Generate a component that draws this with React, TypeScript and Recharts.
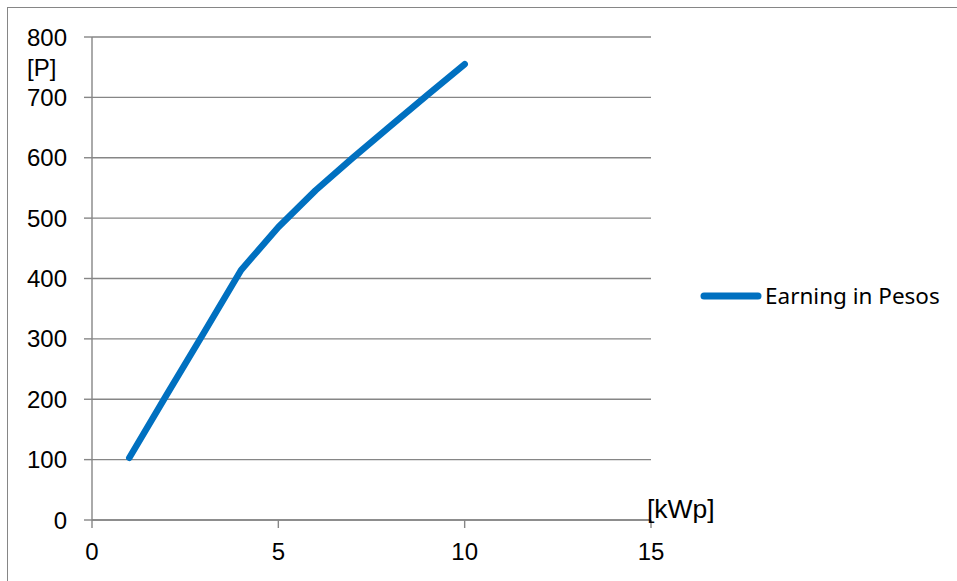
import { LineChart, Line, XAxis, YAxis, CartesianGrid, Legend } from "recharts";

// installed capacity [kWp] and yearly earning [P]
const capacity = [1, 2, 3, 4, 5, 6, 7, 8, 9, 10];
const earning = [103, 207, 310, 414, 485, 546, 600, 652, 704, 755];

const xTicks = [0, 5, 10, 15];
const yTicks = [0, 100, 200, 300, 400, 500, 600, 700, 800];

const seriesName = "Earning in Pesos";

const GRID = "#868686";
const BLUE = "#0070C0";

const chartData = capacity.map((kwp, i) => ({ kwp, pesos: earning[i] }));

function LegendBox() {
  return (
    <div style={{ display: "flex", alignItems: "center", fontFamily: "'Noto Sans', sans-serif", fontSize: 22.5, lineHeight: "26px", color: "#000" }}>
      <svg width={62} height={10}>
        <line x1={4} y1={5} x2={58} y2={5} stroke={BLUE} strokeWidth={7} strokeLinecap="round" />
      </svg>
      <span style={{ marginLeft: 3 }}>{seriesName}</span>
    </div>
  );
}

export default function App() {
  const tickStyle = { fontFamily: "'Liberation Sans', Arial, sans-serif", fontSize: 24, fill: "#000" };

  return (
    <div style={{ position: "absolute", left: 0, top: 0, width: 957, height: 581, background: "#fff", overflow: "hidden" }}>
      <div style={{ position: "absolute", left: 7, top: 7, right: -2, bottom: -2, borderLeft: `1.5px solid ${GRID}`, borderTop: `1.5px solid ${GRID}` }} />
      <LineChart width={957} height={581} data={chartData} margin={{ top: 37, right: 56, left: 0, bottom: 31 }}>
        <CartesianGrid vertical={false} stroke={GRID} strokeWidth={1.4} />
        <XAxis
          type="number"
          dataKey="kwp"
          domain={[0, 15]}
          ticks={xTicks}
          height={30}
          tick={tickStyle}
          tickSize={8}
          tickMargin={15}
          axisLine={{ stroke: GRID, strokeWidth: 1.4 }}
          tickLine={{ stroke: GRID, strokeWidth: 1.4 }}
          label={{
            content: ({ viewBox }: any) => (
              <text x={viewBox.x + viewBox.width - 4} y={viewBox.y - 2} style={{ ...tickStyle, fontSize: 26.5 }} fill="#000">
                [kWp]
              </text>
            ),
          }}
        />
        <YAxis
          type="number"
          domain={[0, 800]}
          ticks={yTicks}
          width={92}
          tick={tickStyle}
          tickSize={8}
          tickMargin={17}
          axisLine={{ stroke: GRID, strokeWidth: 1.4 }}
          tickLine={{ stroke: GRID, strokeWidth: 1.4 }}
          label={{
            content: ({ viewBox }: any) => (
              <text x={viewBox.x + 27} y={viewBox.y + 39} style={tickStyle} fill="#000">
                [P]
              </text>
            ),
          }}
        />
        <Legend
          layout="vertical"
          align="right"
          verticalAlign="middle"
          wrapperStyle={{ width: 250, left: 700, top: 283 }}
          content={() => <LegendBox />}
        />
        <Line
          type="linear"
          dataKey="pesos"
          name={seriesName}
          stroke={BLUE}
          strokeWidth={6.5}
          strokeLinecap="round"
          strokeLinejoin="round"
          dot={false}
          activeDot={false}
          isAnimationActive={false}
        />
      </LineChart>
    </div>
  );
}
